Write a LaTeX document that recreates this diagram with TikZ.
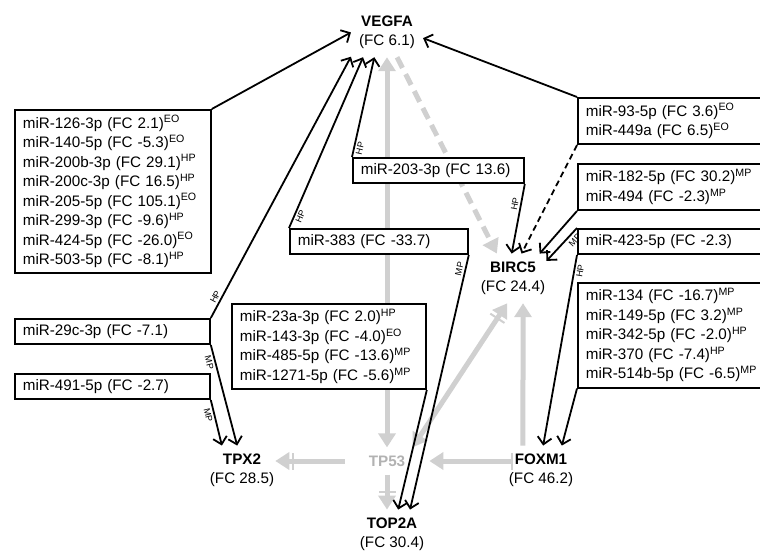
\documentclass[tikz,border=0pt]{standalone}
\usepackage{fontspec}
\setmainfont{Liberation Sans}
\usetikzlibrary{positioning, arrows.meta, calc}
\definecolor{linkgray}{RGB}{208,208,208}
\definecolor{tpgray}{RGB}{178,178,178}

\begin{document}
\begin{tikzpicture}[x=1pt, y=-1pt,
    every node/.style={font=\fontsize{15.2}{19.5}\selectfont},
    mirbox/.style={draw, fill=white, line width=1.8pt, anchor=north west, align=left, inner xsep=8pt, inner ysep=5.5pt},
    gene/.style={align=center, inner sep=8pt},
    hit/.style={line width=1.8pt, -{Straight Barb[length=7pt,width=14pt]}},
    lbl/.style={font=\fontsize{9}{9}\selectfont, sloped, inner sep=1pt},
    gline/.style={draw=linkgray, line width=5pt},
    ghead/.style={-{Triangle[length=14pt,width=17pt]}},
    gbarhead/.style={-{Bar[width=17pt,line width=2pt,sep=3pt]Triangle[length=14pt,width=17pt]}}
]
    \useasboundingbox (0,0) rectangle (760,552);

    % genes
    \node[gene] (vegfa) at (387,32.4) {\textbf{VEGFA}\\(FC 6.1)};
    \node[gene] (birc5) at (513,278.4) {\textbf{BIRC5}\\(FC 24.4)};
    \node[gene] (tpx2) at (242,470.4) {\textbf{TPX2}\\(FC 28.5)};
    \node[gene] (foxm1) at (541,470.4) {\textbf{FOXM1}\\(FC 46.2)};
    \node[gene] (top2a) at (392,534.4) {\textbf{TOP2A}\\(FC 30.4)};
    \node[gene, text=tpgray, inner xsep=24pt] (tp53) at (387,461) {\textbf{TP53}};

    % gray links (behind the boxes)
    \draw[gline, {Triangle[length=14pt,width=17pt]}-{Triangle[length=14pt,width=17pt]}] (tp53.north) -- (vegfa.south);
    \draw[gline, ghead, dash pattern=on 12pt off 7pt] (vegfa.-68) -- (birc5.123);
    \draw[gline, {Triangle[length=14pt,width=17pt]}-{Bar[width=17pt,line width=2pt,sep=3pt]Triangle[length=14pt,width=17pt]}] (tp53.28) -- (birc5.257);
    \draw[gline, ghead] (foxm1.126) -- (birc5.-68);
    \draw[gline, {Bar[width=17pt,line width=2pt]}-{Triangle[length=14pt,width=17pt]}, shorten <=-12pt] (foxm1.west |- tp53.east) -- (tp53.east);
    \draw[gline, gbarhead, shorten >=-7pt] (tp53.west) -- (tp53.west -| tpx2.east);
    \draw[gline, gbarhead] (tp53.south) -- (tp53.south |- top2a.north);

    % miRNA boxes, left side
    \node[mirbox, text width=180pt] (lbox) at (14,109) {miR-126-3p (FC 2.1)\textsuperscript{EO}\\
        miR-140-5p (FC -5.3)\textsuperscript{EO}\\
        miR-200b-3p (FC 29.1)\textsuperscript{HP}\\
        miR-200c-3p (FC 16.5)\textsuperscript{HP}\\
        miR-205-5p (FC 105.1)\textsuperscript{EO}\\
        miR-299-3p (FC -9.6)\textsuperscript{HP}\\
        miR-424-5p (FC -26.0)\textsuperscript{EO}\\
        miR-503-5p (FC -8.1)\textsuperscript{HP}};
    \node[mirbox, text width=179pt] (b29c) at (14,318) {miR-29c-3p (FC -7.1)};
    \node[mirbox, text width=179pt] (b491) at (14,373) {miR-491-5p (FC -2.7)};

    % middle
    \node[mirbox, text width=155pt] (b203) at (352,157) {miR-203-3p (FC 13.6)};
    \node[mirbox, text width=162pt] (b383) at (289,228) {miR-383 (FC -33.7)};
    \node[mirbox, text width=178pt] (b23a) at (231,303) {miR-23a-3p (FC 2.0)\textsuperscript{HP}\\
        miR-143-3p (FC -4.0)\textsuperscript{EO}\\
        miR-485-5p (FC -13.6)\textsuperscript{MP}\\
        miR-1271-5p (FC -5.6)\textsuperscript{MP}};

    % right side
    \node[mirbox, text width=174pt] (b93) at (577,97) {miR-93-5p (FC 3.6)\textsuperscript{EO}\\
        miR-449a (FC 6.5)\textsuperscript{EO}};
    \node[mirbox, text width=174pt] (b182) at (577,163) {miR-182-5p (FC 30.2)\textsuperscript{MP}\\
        miR-494 (FC -2.3)\textsuperscript{MP}};
    \node[mirbox, text width=174pt] (b423) at (577,228) {miR-423-5p (FC -2.3)};
    \node[mirbox, text width=174pt] (b134) at (577,282) {miR-134 (FC -16.7)\textsuperscript{MP}\\
        miR-149-5p (FC 3.2)\textsuperscript{MP}\\
        miR-342-5p (FC -2.0)\textsuperscript{HP}\\
        miR-370 (FC -7.4)\textsuperscript{HP}\\
        miR-514b-5p (FC -6.5)\textsuperscript{MP}};

    % miRNA -> target
    \draw[hit] (lbox.north east) -- (vegfa.west);
    \draw[hit] (b29c.north east) -- node[lbl, pos=0.07, above=1pt] {HP} (vegfa.214);
    \draw[hit] (b383.north west) -- node[lbl, pos=0.08, below=1pt] {HP} (vegfa.226);
    \draw[hit] (b203.north west) -- node[lbl, pos=0.1, below=1pt] {HP} (vegfa.243);
    \draw[hit] (b93.north west) -- (vegfa.-9);
    \draw[hit, dash pattern=on 6pt off 4pt] (b93.south west) -- (birc5.71);
    \draw[hit] (b203.south east) -- node[lbl, pos=0.3, above=1pt] {HP} (birc5.93);
    \draw[hit] (b182.south west) -- (birc5.43);
    \draw[hit, shorten >=-10pt] (b423.north west) -- node[lbl, pos=0.3, below=2pt] {MP} (birc5.north east);
    \draw[hit] (b29c.south east) -- node[lbl, pos=0.16, below=1pt] {MP} (tpx2.101);
    \draw[hit] (b491.south east) -- node[lbl, pos=0.3, below=1pt] {MP} (tpx2.129);
    \draw[hit] (b423.south west) -- node[lbl, pos=0.08, below=1pt] {HP} (foxm1.85);
    \draw[hit] (b134.south west) -- (foxm1.50);
    \draw[hit] (b383.south east) -- node[lbl, pos=0.06, above=1pt] {MP} (top2a.54);
    \draw[hit] (b23a.south east) -- (top2a.76);
\end{tikzpicture}
\end{document}
